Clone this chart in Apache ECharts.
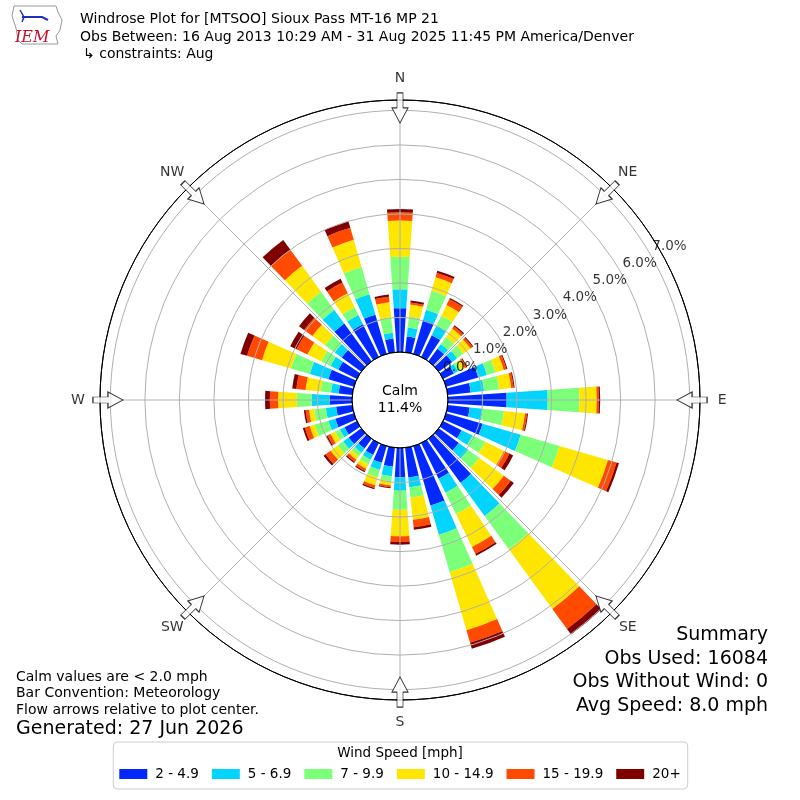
<!DOCTYPE html>
<html>
<head>
<meta charset="utf-8">
<script src="https://cdn.jsdelivr.net/npm/echarts@6/dist/echarts.min.js"></script>
<style>
html,body{margin:0;padding:0;background:#fff;}
#chart{width:800px;height:800px;}
</style>
</head>
<body>
<div id="chart"></div>
<script>
// ---------- data ----------
const directions = ['0','10','20','30','40','50','60','70','80','90','100','110','120','130','140','150','160','170',
  '180','190','200','210','220','230','240','250','260','270','280','290','300','310','320','330','340','350'];
const speedBins = ['2 - 4.9','5 - 6.9','7 - 9.9','10 - 14.9','15 - 19.9','20+'];
const binColors = ['#0028ff','#00d4ff','#7cff79','#ffe600','#ff4a00','#800000'];

const bin1 = [1.27,0.46,1.02,0.70,0.45,0.48,0.35,0.97,0.67,1.70,0.64,1.10,0.60,0.72,1.58,1.15,1.79,0.87,
              0.85,0.55,0.50,0.38,0.35,0.45,0.40,0.56,0.47,0.64,0.40,0.77,0.60,0.70,1.35,1.05,1.18,0.40];
const bin2 = [0.55,0.26,0.31,0.31,0.17,0.18,0.13,0.26,0.39,1.19,0.38,1.15,0.35,0.33,1.19,0.45,0.88,0.28,
              0.39,0.28,0.22,0.16,0.15,0.20,0.15,0.21,0.30,0.53,0.22,0.56,0.25,0.25,0.49,0.30,0.62,0.17];
const bin3 = [0.94,0.32,0.57,0.32,0.25,0.22,0.10,0.26,0.44,0.92,0.62,1.17,0.41,0.40,1.20,0.69,1.13,0.30,
              0.55,0.15,0.22,0.15,0.13,0.20,0.15,0.41,0.34,0.43,0.30,0.57,0.30,0.35,0.65,0.25,0.82,0.45];
const bin4 = [1.05,0.35,0.41,0.34,0.30,0.26,0.12,0.25,0.35,0.50,0.61,1.46,0.61,0.88,2.13,1.06,1.75,0.65,
              0.77,0.12,0.24,0.14,0.12,0.25,0.15,0.15,0.15,0.54,0.44,0.87,0.45,0.45,0.93,0.45,0.82,0.44];
const bin5 = [0.24,0.06,0.13,0.19,0.08,0.07,0.05,0.08,0.07,0.06,0.06,0.26,0.17,0.25,0.72,0.22,0.38,0.22,
              0.16,0.05,0.08,0.07,0.08,0.18,0.10,0.15,0.10,0.24,0.27,0.45,0.35,0.30,0.58,0.35,0.36,0.16];
const bin6 = [0.09,0.06,0.07,0.04,0.04,0.03,0.03,0.03,0.03,0.04,0.03,0.07,0.12,0.11,0.20,0.06,0.18,0.07,
              0.08,0.03,0.04,0.04,0.04,0.07,0.05,0.06,0.05,0.14,0.12,0.20,0.20,0.18,0.35,0.12,0.20,0.06];

const ringValues = [0,1,2,3,4,5,6,7];
const ringLabels = ['0.0%','1.0%','2.0%','3.0%','4.0%','5.0%','6.0%','7.0%'];
const compassLabels = ['N','NE','E','SE','S','SW','W','NW'];
const compassAngles = [0,45,90,135,180,225,270,315];
const calmPercent = '11.4%';
const summaryLines = ['Summary','Obs Used: 16084','Obs Without Wind: 0','Avg Speed: 8.0 mph'];
const noteLines = ['Calm values are < 2.0 mph','Bar Convention: Meteorology','Flow arrows relative to plot center.'];
const generatedLine = 'Generated: 27 Jun 2026';
const titleLines = ['Windrose Plot for [MTSOO] Sioux Pass MT-16 MP 21',
  'Obs Between: 16 Aug 2013 10:29 AM - 31 Aug 2025 11:45 PM America/Denver',
  '\u21b3 constraints: Aug'];

// ---------- chart ----------
const FONT = '"DejaVu Sans", Verdana, sans-serif';
const RMAX = 7.30;
const ARROW_R = 7.07;   // radial position of flow arrows (axis units)
const LABEL_R = 7.94;   // radial position of compass labels (axis units)
const bins = [bin1,bin2,bin3,bin4,bin5,bin6];

const chart = echarts.init(document.getElementById('chart'), null, {renderer:'canvas'});

const barSeries = bins.map((arr, i) => ({
  name: speedBins[i],
  type: 'bar',
  coordinateSystem: 'polar',
  polarIndex: 1,
  stack: 'wind',
  data: arr,
  barCategoryGap: '22%',
  itemStyle: {color: binColors[i]},
  silent: true,
  z: 2
}));

const arrowPath = 'path://M5,0L11,0L11,15L16,15L8,30L0,15L5,15Z';

const option = {
  animation: false,
  backgroundColor: '#fff',
  textStyle: {fontFamily: FONT},
  polar: [
    {center: ['50%','50%'], radius: [48, 300]},
    {center: ['50%','50%'], radius: [48, 300]}
  ],
  angleAxis: [
    {
      polarIndex: 0, type: 'value', min: 0, max: 360, interval: 45,
      startAngle: 90, clockwise: true, z: 5,
      axisLine: {show: true, lineStyle: {color: '#000', width: 1}},
      axisTick: {show: false},
      axisLabel: {show: false},
      splitLine: {show: true, lineStyle: {color: '#b0b0b0', width: 1}}
    },
    {
      polarIndex: 1, type: 'category', data: directions,
      startAngle: 95, clockwise: true, boundaryGap: true,
      axisLine: {show: false}, axisTick: {show: false}, axisLabel: {show: false},
      splitLine: {show: false}
    }
  ],
  radiusAxis: [
    {
      polarIndex: 0, type: 'value', min: 0, max: RMAX, interval: 1, z: 5,
      axisLine: {show: false}, axisTick: {show: false}, axisLabel: {show: false},
      splitLine: {show: true, lineStyle: {color: ['#000','#b0b0b0','#b0b0b0','#b0b0b0','#b0b0b0','#b0b0b0','#b0b0b0','#b0b0b0','#000'], width: 1}}
    },
    {
      polarIndex: 1, type: 'value', min: 0, max: RMAX, show: false
    }
  ],
  legend: {
    data: speedBins,
    top: 742, left: 'center',
    icon: 'rect', itemWidth: 28, itemHeight: 10, itemGap: 13,
    padding: [25, 7, 8, 6],
    borderColor: '#cccccc', borderWidth: 1, borderRadius: 4,
    backgroundColor: '#fff',
    selectedMode: false,
    textStyle: {fontSize: 13.5, color: '#000', fontFamily: FONT, padding: [0,0,0,3]}
  },
  series: [
    ...barSeries,
    {
      type: 'scatter', coordinateSystem: 'polar', polarIndex: 0, silent: true, z: 10, clip: false,
      symbol: arrowPath, symbolSize: [16, 30], symbolKeepAspect: false,
      itemStyle: {color: '#fff', borderColor: '#000', borderWidth: 1},
      data: compassAngles.map(a => ({value: [ARROW_R, a], symbolRotate: -a}))
    },
    {
      type: 'scatter', coordinateSystem: 'polar', polarIndex: 0, silent: true, z: 11, clip: false,
      symbol: 'circle', symbolSize: 1,
      itemStyle: {color: 'rgba(0,0,0,0)'},
      label: {show: true, position: 'inside', fontSize: 14, color: '#000', fontFamily: FONT,
        formatter: p => compassLabels[p.dataIndex]},
      data: compassAngles.map(a => [LABEL_R, a])
    },
    {
      type: 'scatter', coordinateSystem: 'polar', polarIndex: 0, silent: true, z: 11, clip: false,
      symbol: 'circle', symbolSize: 1,
      itemStyle: {color: 'rgba(0,0,0,0)'},
      label: {show: true, position: 'right', distance: 0, offset: [1, -9],
        fontSize: 13.5, color: '#000', fontFamily: FONT,
        formatter: p => ringLabels[p.dataIndex]},
      data: ringValues.map(v => [v, 60])
    }
  ],
  graphic: [
    // IEM logo (simple outline + text)
    {type: 'polyline', z: 20, shape: {points: [[14,6],[56,6],[58,12],[62,20],[60,30],[56,36],[58,44],[22,44],[18,40],[16,28],[12,16],[14,6]]},
      style: {stroke: '#999', fill: 'none', lineWidth: 1}},
    {type: 'polyline', z: 20, shape: {points: [[22,17],[42,17],[48,20]]}, style: {stroke: '#1f2fbf', fill: 'none', lineWidth: 2}},
    {type: 'polyline', z: 20, shape: {points: [[20,10],[24,17],[22,22]]}, style: {stroke: '#1f2fbf', fill: 'none', lineWidth: 1.5}},
    {type: 'text', z: 20, x: 15, y: 38, style: {text: 'IEM', fill: '#c8102e', font: 'italic 16px "DejaVu Serif", "Liberation Serif", serif', textVerticalAlign: 'middle'}},
    // titles
    {type: 'text', z: 20, x: 80, y: 19, style: {text: titleLines[0], fill: '#000', font: '14px ' + FONT, textVerticalAlign: 'middle'}},
    {type: 'text', z: 20, x: 80, y: 37, style: {text: titleLines[1], fill: '#000', font: '14px ' + FONT, textVerticalAlign: 'middle'}},
    {type: 'text', z: 20, x: 83, y: 54, style: {text: titleLines[2], fill: '#000', font: '14px ' + FONT, textVerticalAlign: 'middle'}},
    // calm
    {type: 'text', z: 20, x: 400, y: 400, style: {text: 'Calm\n' + calmPercent, fill: '#000', font: '14px ' + FONT, textAlign: 'center', textVerticalAlign: 'middle', lineHeight: 17}},
    // notes
    {type: 'text', z: 20, x: 16, y: 677, style: {text: noteLines[0], fill: '#000', font: '14px ' + FONT, textVerticalAlign: 'middle'}},
    {type: 'text', z: 20, x: 16, y: 693, style: {text: noteLines[1], fill: '#000', font: '14px ' + FONT, textVerticalAlign: 'middle'}},
    {type: 'text', z: 20, x: 16, y: 710, style: {text: noteLines[2], fill: '#000', font: '14px ' + FONT, textVerticalAlign: 'middle'}},
    {type: 'text', z: 20, x: 16, y: 729, style: {text: generatedLine, fill: '#000', font: '19px ' + FONT, textVerticalAlign: 'middle'}},
    // summary
    {type: 'text', z: 20, x: 768, y: 635, style: {text: summaryLines[0], fill: '#000', font: '19px ' + FONT, textAlign: 'right', textVerticalAlign: 'middle'}},
    {type: 'text', z: 20, x: 768, y: 659, style: {text: summaryLines[1], fill: '#000', font: '19px ' + FONT, textAlign: 'right', textVerticalAlign: 'middle'}},
    {type: 'text', z: 20, x: 768, y: 682, style: {text: summaryLines[2], fill: '#000', font: '19px ' + FONT, textAlign: 'right', textVerticalAlign: 'middle'}},
    {type: 'text', z: 20, x: 768, y: 706, style: {text: summaryLines[3], fill: '#000', font: '19px ' + FONT, textAlign: 'right', textVerticalAlign: 'middle'}},
    // legend title
    {type: 'text', z: 20, x: 400, y: 753, style: {text: 'Wind Speed [mph]', fill: '#000', font: '13.5px ' + FONT, textAlign: 'center', textVerticalAlign: 'middle'}}
  ]
};

chart.setOption(option);
</script>
</body>
</html>
